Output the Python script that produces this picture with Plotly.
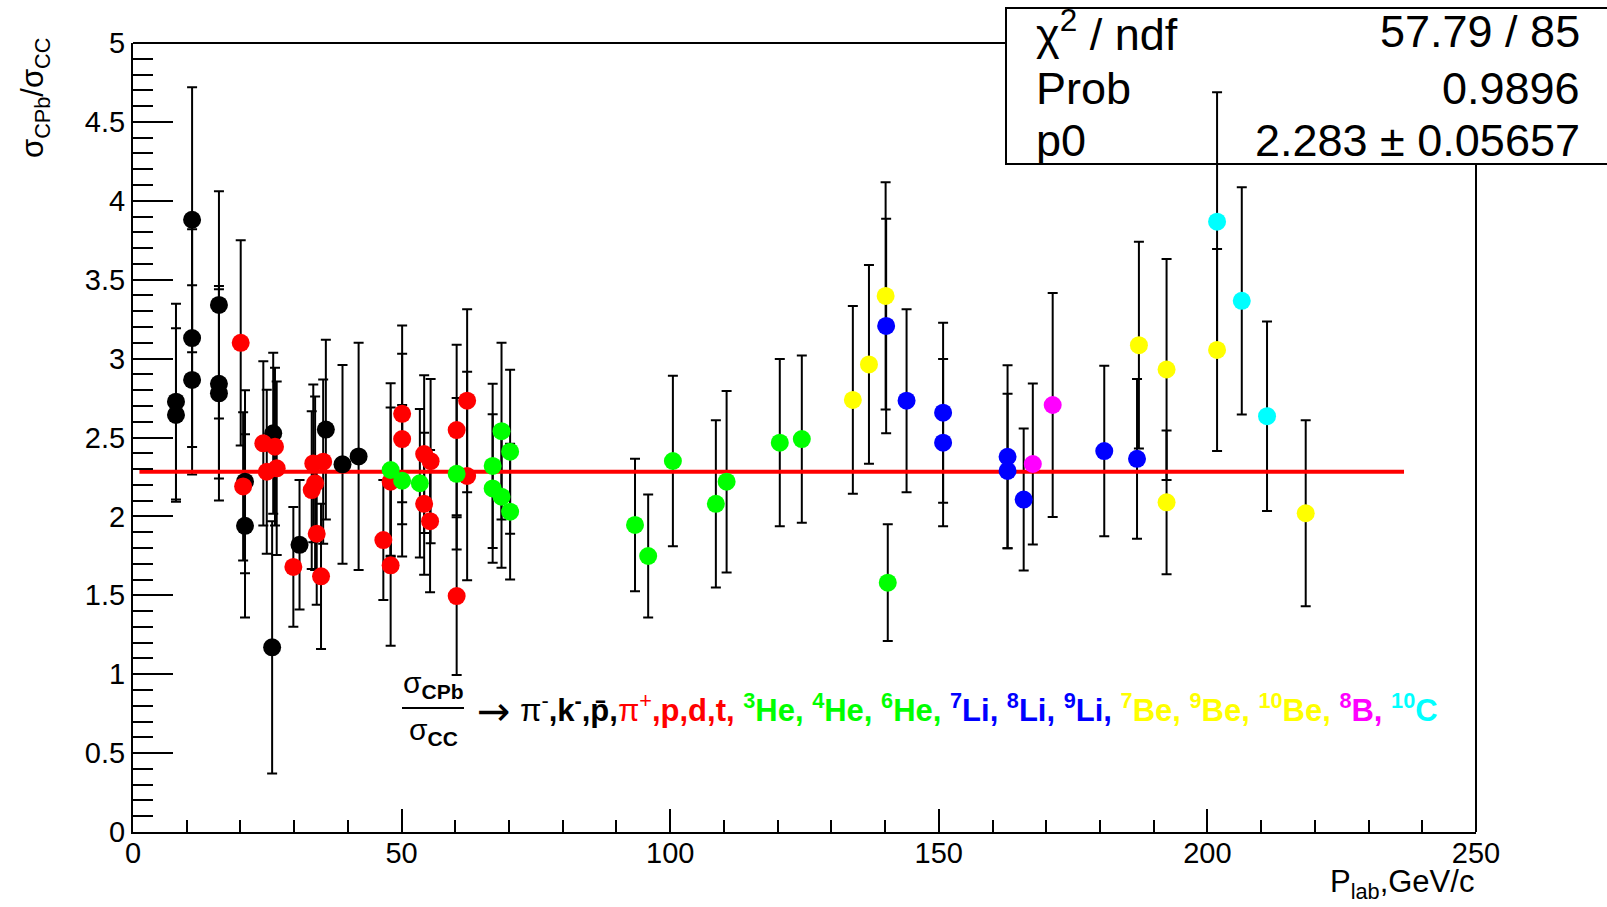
import plotly.graph_objects as go

# ---------------- data ----------------
black_x = [8.0, 8.0, 11.0, 11.0, 11.0, 16.0, 16.0, 16.0, 20.85, 20.85, 26.1, 25.9, 31.0, 35.9, 39.0, 42.0]
black_y = [2.727, 2.643, 3.88, 3.13, 2.865, 3.34, 2.84, 2.78, 2.22, 1.94, 2.527, 1.17, 1.82, 2.55, 2.33, 2.38]
black_e = [0.62, 0.55, 0.84, 0.69, 0.60, 0.72, 0.60, 0.68, 0.58, 0.58, 0.51, 0.80, 0.41, 0.57, 0.63, 0.72]

red_x = [20.05, 20.5, 24.26, 24.9, 26.43, 26.75, 29.85, 33.56, 35.4, 33.9, 33.27, 34.2, 35.0,
         46.6, 47.96, 47.96, 50.1, 50.1, 54.2, 55.4, 54.2, 55.3, 60.25, 60.25, 62.2, 62.2]
red_y = [3.10, 2.19, 2.463, 2.283, 2.442, 2.305, 1.68, 2.336, 2.347, 2.21, 2.167, 1.89, 1.62,
         1.85, 2.22, 1.69, 2.65, 2.49, 2.395, 2.35, 2.08, 1.97, 2.547, 1.495, 2.733, 2.256]
red_e = [0.65, 0.47, 0.52, 0.52, 0.50, 0.55, 0.38, 0.50, 0.52, 0.55, 0.50, 0.45, 0.46,
         0.38, 0.47, 0.51, 0.56, 0.54, 0.50, 0.52, 0.45, 0.45, 0.54, 0.50, 0.58, 0.66]

green_x = [47.96, 50.1, 53.4, 60.25, 66.95, 66.95, 68.6, 68.6, 70.2, 70.2, 93.45, 95.9, 100.5,
           108.5, 110.5, 120.4, 124.5, 140.5]
green_y = [2.294, 2.226, 2.21, 2.27, 2.32, 2.177, 2.54, 2.125, 2.41, 2.03, 1.946, 1.749, 2.351,
           2.08, 2.22, 2.467, 2.49, 1.58]
green_e = [0.55, 0.48, 0.47, 0.48, 0.52, 0.47, 0.56, 0.45, 0.52, 0.43, 0.42, 0.39, 0.54,
           0.53, 0.575, 0.53, 0.53, 0.37]

blue_x = [140.2, 144.0, 150.8, 150.8, 162.8, 162.8, 165.8, 180.8, 186.9]
blue_y = [3.207, 2.733, 2.657, 2.467, 2.378, 2.288, 2.107, 2.414, 2.365]
blue_e = [0.68, 0.58, 0.57, 0.53, 0.58, 0.49, 0.45, 0.54, 0.506]

yellow_x = [134.0, 137.0, 140.1, 187.25, 192.4, 192.4, 201.8, 218.3]
yellow_y = [2.738, 2.963, 3.397, 3.085, 2.931, 2.089, 3.055, 2.02]
yellow_e = [0.595, 0.63, 0.72, 0.655, 0.70, 0.455, 0.64, 0.59]

magenta_x = [167.5, 171.2]
magenta_y = [2.332, 2.706]
magenta_e = [0.51, 0.71]

cyan_x = [201.8, 206.4, 211.1]
cyan_y = [3.868, 3.366, 2.635]
cyan_e = [0.82, 0.72, 0.60]

fit_x = [1.2, 236.6]
fit_p0 = 2.283

stat_labels = ["χ<sup>2</sup> / ndf", "Prob", "p0"]
stat_values = ["57.79 / 85", "0.9896", "2.283 ± 0.05657"]

x_range = [0, 250]
y_range = [0, 5]

# ---------------- layout geometry (pixels) ----------------
W, H = 1607, 907
L, R, T, B = 133, 1476, 43, 832
FONT = "Liberation Sans, Arial, Helvetica, sans-serif"


def px(X):
    return (X - L) / (R - L)


def py(Y):
    return (B - Y) / (B - T)


groups = [
    (black_x, black_y, black_e, "#000000"),
    (red_x, red_y, red_e, "#ff0000"),
    (green_x, green_y, green_e, "#00ff00"),
    (blue_x, blue_y, blue_e, "#0000ff"),
    (yellow_x, yellow_y, yellow_e, "#ffff00"),
    (magenta_x, magenta_y, magenta_e, "#ff00ff"),
    (cyan_x, cyan_y, cyan_e, "#00ffff"),
]

fig = go.Figure()

# error bars first (invisible markers)
for gx, gy, ge, col in groups:
    fig.add_trace(go.Scatter(
        x=gx, y=gy, mode="markers",
        marker=dict(size=18, color=col, opacity=0),
        error_y=dict(type="data", array=ge, visible=True, color="#000000", thickness=2, width=5),
        showlegend=False, hoverinfo="skip"))

# fit line
fig.add_trace(go.Scatter(x=fit_x, y=[fit_p0] * len(fit_x), mode="lines",
                         line=dict(color="#ff0000", width=4), showlegend=False))

# markers
for gx, gy, ge, col in groups:
    fig.add_trace(go.Scatter(
        x=gx, y=gy, mode="markers",
        marker=dict(size=18, color=col, line=dict(width=0)),
        showlegend=False))

shapes = []
# stats box
bx0, bx1, by0, by1 = 1006, 1615, 8, 164
shapes.append(dict(type="rect", xref="paper", yref="paper", layer="below",
                   x0=px(bx0), x1=px(bx1), y0=py(by1), y1=py(by0),
                   line=dict(color="black", width=2), fillcolor="white"))
# top / right frame lines (not covered by box)
shapes.append(dict(type="line", xref="paper", yref="paper", layer="below",
                   x0=0, x1=px(bx0), y0=1, y1=1, line=dict(color="black", width=2)))
shapes.append(dict(type="line", xref="paper", yref="paper", layer="below",
                   x0=1, x1=1, y0=0, y1=py(by1), line=dict(color="black", width=2)))
# fraction bar
shapes.append(dict(type="line", xref="paper", yref="paper",
                   x0=px(402), x1=px(464), y0=py(708), y1=py(708),
                   line=dict(color="black", width=2)))

annotations = []
row_y = [31, 89, 140]
for lab, val, ry in zip(stat_labels, stat_values, row_y):
    annotations.append(dict(xref="paper", yref="paper", x=px(1034), y=py(ry), text=lab,
                            xanchor="left", yanchor="middle", showarrow=False,
                            font=dict(size=45, color="black", family=FONT)))
    annotations.append(dict(xref="paper", yref="paper", x=px(1582), y=py(ry), text=val,
                            xanchor="right", yanchor="middle", showarrow=False,
                            font=dict(size=45, color="black", family=FONT)))

# axis titles
annotations.append(dict(xref="paper", yref="paper", x=px(1476), y=py(884),
                        text="P<sub>lab</sub>,GeV/c", xanchor="right", yanchor="middle",
                        showarrow=False, font=dict(size=31, color="black", family=FONT)))
annotations.append(dict(xref="paper", yref="paper", x=px(35), y=py(36),
                        text="σ<sub>CPb</sub>/σ<sub>CC</sub>", textangle=-90,
                        xanchor="center", yanchor="top",
                        showarrow=False, font=dict(size=31, color="black", family=FONT)))

# fraction
annotations.append(dict(xref="paper", yref="paper", x=px(433), y=py(705),
                        text="σ<sub><b>CPb</b></sub>", xanchor="center", yanchor="bottom",
                        showarrow=False, font=dict(size=30, color="black", family=FONT)))
annotations.append(dict(xref="paper", yref="paper", x=px(433), y=py(711),
                        text="σ<sub><b>CC</b></sub>", xanchor="center", yanchor="top",
                        showarrow=False, font=dict(size=30, color="black", family=FONT)))


def sp(color, s):
    return f'<span style="color:{color}">{s}</span>'


particle_text = (
    sp("#000000", "π<sup>-</sup><b>,k<sup>-</sup>,p\u0304,</b>")
    + sp("#ff0000", "π<sup>+</sup><b>,p,d,t,</b>")
    + sp("#00ff00", "<b> <sup>3</sup>He, <sup>4</sup>He, <sup>6</sup>He,</b>")
    + sp("#0000ff", "<b> <sup>7</sup>Li, <sup>8</sup>Li, <sup>9</sup>Li,</b>")
    + sp("#ffff00", "<b> <sup>7</sup>Be, <sup>9</sup>Be, <sup>10</sup>Be,</b>")
    + sp("#ff00ff", "<b> <sup>8</sup>B,</b>")
    + sp("#00ffff", "<b> <sup>10</sup>C</b>")
)
# arrow (separate, larger glyph)
annotations.append(dict(xref="paper", yref="paper", x=px(494), y=py(711),
                        text="→", xanchor="center", yanchor="middle",
                        showarrow=False, font=dict(size=40, color="black", family="DejaVu Sans")))
annotations.append(dict(xref="paper", yref="paper", x=px(518), y=py(708),
                        text=particle_text, xanchor="left", yanchor="middle",
                        showarrow=False, font=dict(size=31, color="black", family=FONT)))

fig.update_layout(
    width=W, height=H,
    margin=dict(l=L, r=W - R, t=T, b=H - B, pad=0),
    paper_bgcolor="white", plot_bgcolor="white",
    font=dict(family=FONT, color="black"),
    shapes=shapes, annotations=annotations,
    showlegend=False,
    xaxis=dict(range=x_range, dtick=50, tick0=0, showgrid=False, zeroline=False,
               showline=True, linecolor="black", linewidth=2, mirror=False,
               ticks="inside", ticklen=23, tickwidth=2, tickcolor="black",
               ticklabelstandoff=-6,
               minor=dict(dtick=10, ticks="inside", ticklen=12, tickwidth=2, tickcolor="black", showgrid=False),
               tickfont=dict(size=29, color="black", family=FONT), automargin=False),
    yaxis=dict(range=y_range, dtick=0.5, tick0=0, showgrid=False, zeroline=False,
               showline=True, linecolor="black", linewidth=2, mirror=False,
               ticks="inside", ticklen=40, tickwidth=2, tickcolor="black",
               minor=dict(dtick=0.1, ticks="inside", ticklen=20, tickwidth=2, tickcolor="black", showgrid=False),
               tickfont=dict(size=29, color="black", family=FONT), automargin=False),
)

fig.write_html("out.html")
